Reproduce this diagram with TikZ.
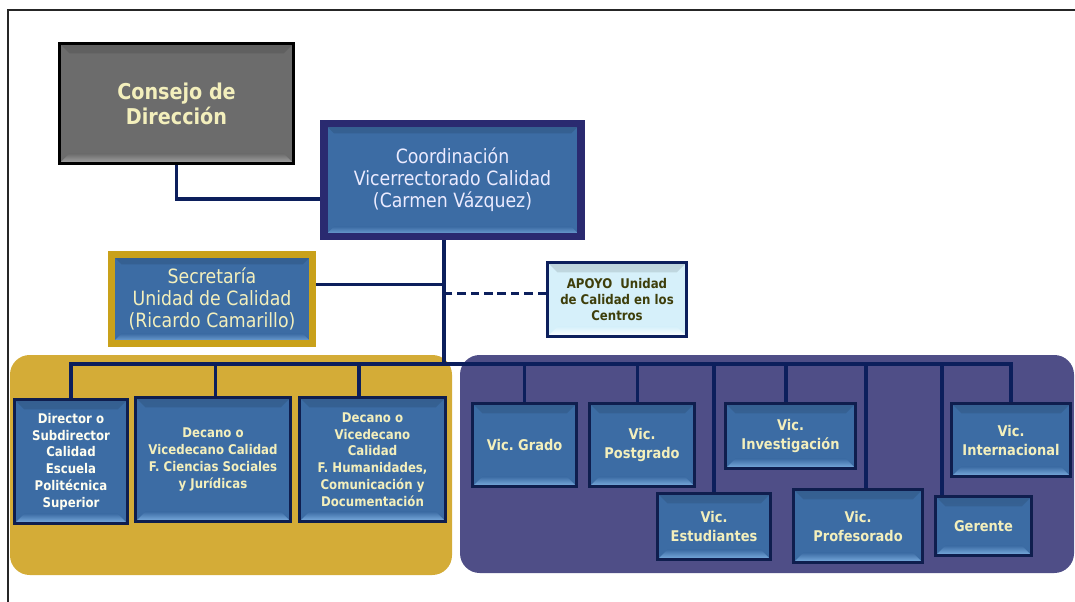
\documentclass[tikz,border=0pt]{standalone}
\usepackage{fontspec}
\setmainfont{DejaVu Sans}[FakeStretch=0.88]
\definecolor{navy}{HTML}{0C1F5C}
\definecolor{boxline}{HTML}{0F1E4E}
\definecolor{boxblue}{HTML}{3C6CA4}
\definecolor{boxlight}{HTML}{7EB0E2}
\definecolor{indigo}{HTML}{2A2A70}
\definecolor{goldline}{HTML}{C9A11A}
\definecolor{goldpanel}{HTML}{D4AC37}
\definecolor{purplepanel}{HTML}{4F4E87}
\definecolor{paleyellow}{HTML}{F3EFBC}
\definecolor{councilgray}{HTML}{6C6C6C}
\definecolor{supportcyan}{HTML}{D6F0FA}
\definecolor{olivetext}{HTML}{3E3E0A}
\tikzset{
  boxsize/.style 2 args={minimum width=#1*0.025cm, minimum height=#2*0.025cm},
  bevel/.style 2 args={fill=#1, path picture={
    \shade[top color=#1!88!black, bottom color=#1]
      (path picture bounding box.north west) -- (path picture bounding box.north east)
      -- ([xshift=-7pt,yshift=-7pt]path picture bounding box.north east)
      -- ([xshift=7pt,yshift=-7pt]path picture bounding box.north west) -- cycle;
    \shade[top color=#1, bottom color=#2]
      (path picture bounding box.south west) -- (path picture bounding box.south east)
      -- ([xshift=-7pt,yshift=7pt]path picture bounding box.south east)
      -- ([xshift=7pt,yshift=7pt]path picture bounding box.south west) -- cycle;
  }},
}

\begin{document}
\frenchspacing
\begin{tikzpicture}[x=0.025cm, y=-0.025cm]
	\tikzstyle{link}=[draw=navy, line width=2.2pt]
	\tikzstyle{unitStyle}=[draw=boxline, line width=2.2pt, inner sep=0pt, align=center, text=paleyellow, bevel={boxblue}{boxlight}, font=\fontsize{9.5}{11.9}\selectfont\bfseries]
	\tikzstyle{vicStyle}=[unitStyle, font=\fontsize{10.5}{13.5}\selectfont\bfseries]
	\useasboundingbox (0,0) rectangle (1075,602);
	\draw[line width=1.6pt, black!85] (8,602) -- (8,10) -- (1075,10);
	\fill[goldpanel, rounded corners=14pt] (10,355) rectangle (452,575);
	\fill[purplepanel, rounded corners=14pt] (460,355) rectangle (1074,573);
	% top of the chart
	\node[boxsize={234}{120}, draw=black, line width=2.2pt, inner sep=0pt, align=center, text=paleyellow, bevel={councilgray}{councilgray!60!white}, font=\fontsize{15.5}{17.8}\selectfont\bfseries] (consejo) at (176.5,103.5) {Consejo de\\Dirección};
	\node[boxsize={257}{113}, draw=indigo, line width=5.5pt, inner sep=0pt, align=center, text=white!92!blue, bevel={boxblue}{boxlight}, font=\fontsize{14}{15.6}\selectfont] (coord) at (452.5,180) {Coordinación\\Vicerrectorado Calidad\\(Carmen Vázquez)};
	\node[boxsize={201}{89}, draw=goldline, line width=5pt, inner sep=0pt, align=center, text=paleyellow, bevel={boxblue}{boxlight}, font=\fontsize{14}{15.6}\selectfont] (secre) at (212,299) {Secretaría\\Unidad de Calidad\\(Ricardo Camarillo)};
	\node[boxsize={139}{74}, draw=navy, line width=2.2pt, inner sep=0pt, align=center, text=olivetext, bevel={supportcyan}{white}, font=\fontsize{9.5}{11.4}\selectfont\bfseries] (apoyo) at (617,299.5) {APOYO\ \ Unidad\\de Calidad en los\\Centros};
	% centres
	\node[unitStyle, boxsize={113}{124}, text=white!94!yellow] (dir) at (71,461.5) {Director o\\Subdirector\\Calidad\\Escuela\\Politécnica\\Superior};
	\node[unitStyle, boxsize={155}{124}] (cs) at (213,459.5) {Decano o\\Vicedecano Calidad\\F. Ciencias Sociales\\y Jurídicas};
	\node[unitStyle, boxsize={146}{124}] (hum) at (372.5,459.5) {Decano o\\Vicedecano\\Calidad\\F. Humanidades,\\Comunicación y\\Documentación};
	% vicerrectorados
	\node[vicStyle, boxsize={104}{83}] (grado) at (524.5,445) {Vic. Grado};
	\node[vicStyle, boxsize={105}{83}] (post) at (642,445) {Vic.\\Postgrado};
	\node[vicStyle, boxsize={113}{66}] (estu) at (714,526.5) {Vic.\\Estudiantes};
	\node[vicStyle, boxsize={130}{65}] (inv) at (790.5,436) {Vic.\\Investigación};
	\node[vicStyle, boxsize={129}{73}] (prof) at (858,526) {Vic.\\Profesorado};
	\node[vicStyle, boxsize={96}{59}] (ger) at (983.5,526) {Gerente};
	\node[vicStyle, boxsize={119}{73}] (inter) at (1011,440) {Vic.\\Internacional};
	\coordinate (hub) at (444,364);
	\draw[link] (consejo.south) |- ([yshift=-13.5pt]coord.west);
	\draw[link] (hub) -- (hub |- coord.south);
	\draw[link] ([yshift=10pt]secre.east) -- ([yshift=10pt]secre.east -| hub);
	\draw[link, dash pattern=on 6pt off 3.5pt] ([yshift=4.5pt]apoyo.west) -- ([yshift=4.5pt]apoyo.west -| hub);
	\draw[link] (hub) -| (dir.north);
	\draw[link] (hub) -| ([xshift=2pt]cs.north);
	\draw[link] (hub) -| ([xshift=-9.6pt]hum.north);
	\draw[link] (hub) -| (grado.north);
	\draw[link] (hub) -| ([xshift=-3.5pt]post.north);
	\draw[link] (hub) -| (estu.north);
	\draw[link] (hub) -| ([xshift=-3.2pt]inv.north);
	\draw[link] (hub) -| ([xshift=5.7pt]prof.north);
	\draw[link] (hub) -| ([xshift=-29.5pt]ger.north);
	\draw[link] (hub) -| (inter.north);
\end{tikzpicture}
\end{document}
